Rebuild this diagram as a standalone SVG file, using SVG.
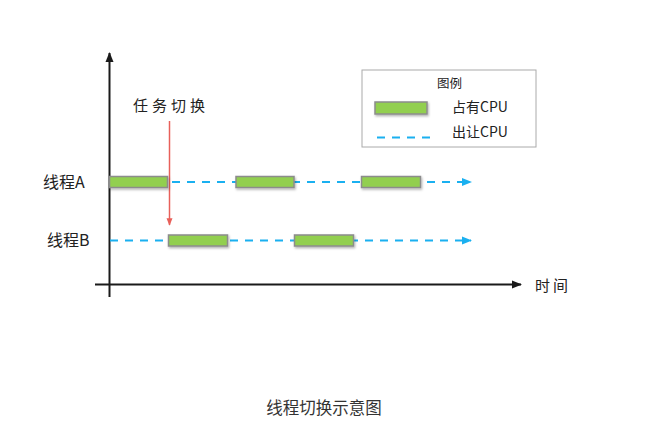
<svg xmlns="http://www.w3.org/2000/svg" width="648" height="428" viewBox="0 0 648 428">
<style>
.t{font-family:"Noto Sans CJK SC","Liberation Sans",sans-serif;fill:#222}
.bar{fill:#92cf50;stroke:#8c8c8c;stroke-width:1.5;filter:url(#sh)}
.dash{stroke:#1ab0f0;stroke-width:2;stroke-dasharray:8 7;fill:none}
.axis{stroke:#1a1a1a;stroke-width:2;fill:none}
</style>
<defs>
<filter id="sh" x="-10%" y="-40%" width="130%" height="200%">
<feDropShadow dx="1" dy="1.5" stdDeviation="1" flood-color="#000" flood-opacity="0.3"/>
</filter>
<marker id="ak" viewBox="0 0 10 10" refX="9" refY="5" markerWidth="5" markerHeight="5" orient="auto"><path d="M0,1 L10,5 L0,9 z" fill="#1a1a1a"/></marker>
<marker id="ab" viewBox="0 0 10 10" refX="9" refY="5" markerWidth="5" markerHeight="5" orient="auto"><path d="M0,1 L10,5 L0,9 z" fill="#1ab0f0"/></marker>
<marker id="ar" viewBox="0 0 10 10" refX="9" refY="5" markerWidth="5" markerHeight="5" orient="auto"><path d="M0,1 L10,5 L0,9 z" fill="#e8605a"/></marker>
</defs>
<rect width="648" height="428" fill="#fff"/>
<g id="connectors">
<line class="axis" x1="109.5" y1="297" x2="109.5" y2="53" marker-end="url(#ak)"/>
<line class="axis" x1="95" y1="284.5" x2="521" y2="284.5" marker-end="url(#ak)"/>
<line class="dash" x1="172" y1="182" x2="471" y2="182" marker-end="url(#ab)"/>
<line class="dash" x1="110" y1="240.5" x2="471" y2="240.5" marker-end="url(#ab)"/>
<line x1="169.5" y1="121" x2="169.5" y2="225" stroke="#e8605a" stroke-width="1.5" marker-end="url(#ar)"/>
</g>
<g id="threadA">
<rect class="bar" x="109.5" y="176.5" width="58" height="11"/>
<rect class="bar" x="236" y="176.5" width="58" height="11"/>
<rect class="bar" x="361.5" y="176.5" width="59" height="11"/>
<text class="t" x="43" y="188" font-size="16">线程A</text>
</g>
<g id="threadB">
<rect class="bar" x="168.5" y="235" width="59" height="11"/>
<rect class="bar" x="294.5" y="235" width="59" height="11"/>
<text class="t" x="47" y="246" font-size="16">线程B</text>
</g>
<g id="switch-label">
<text class="t" x="133" y="110.5" font-size="15" letter-spacing="4">任务切换</text>
</g>
<g id="legend">
<rect x="362" y="70" width="174" height="77" fill="#fff" stroke="#aaa" stroke-width="1"/>
<text class="t" x="449.5" y="87.5" font-size="12.5" text-anchor="middle">图例</text>
<rect class="bar" x="375" y="102" width="52" height="12"/>
<text class="t" x="452" y="112" font-size="14">占有CPU</text>
<line class="dash" x1="377" y1="137.5" x2="433" y2="137.5"/>
<text class="t" x="452" y="137" font-size="14">出让CPU</text>
</g>
<g id="time-label">
<text class="t" x="535" y="291" font-size="15" letter-spacing="3">时间</text>
</g>
<g id="caption">
<text x="324" y="413.5" font-size="16.5" text-anchor="middle" style="font-family:'Noto Sans CJK SC',sans-serif;fill:#333">线程切换示意图</text>
</g>
</svg>
